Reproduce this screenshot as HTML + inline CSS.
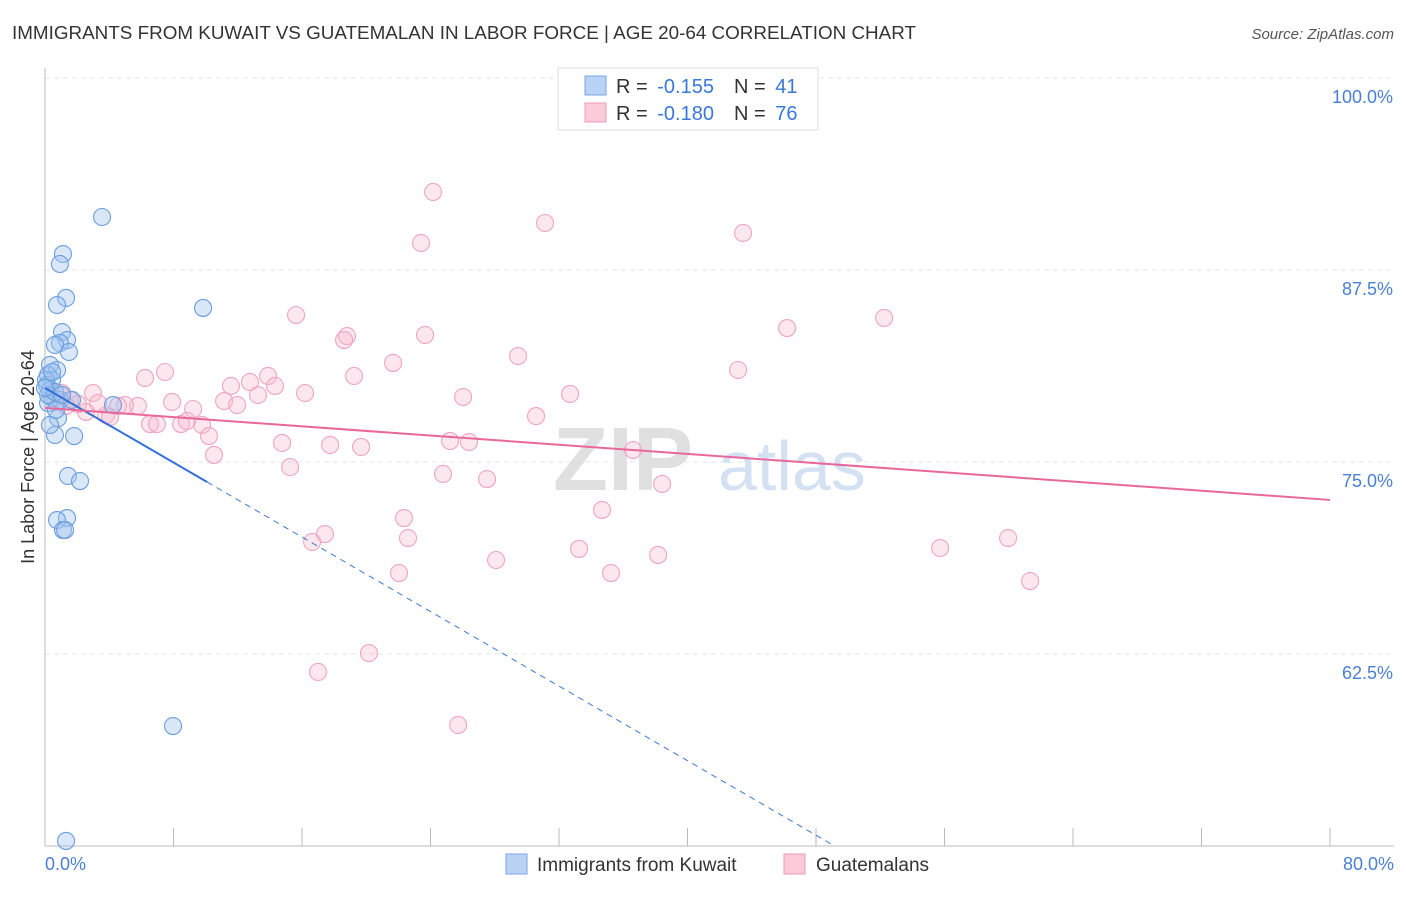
<!DOCTYPE html>
<html><head><meta charset="utf-8"><style>
body{margin:0;background:#fff;font-family:"Liberation Sans",sans-serif;}
svg text{font-family:"Liberation Sans",sans-serif;}
</style></head><body>
<svg id="chart" width="1406" height="892" viewBox="0 0 1406 892">
<text x="12" y="39" font-size="18" fill="#333" textLength="904" lengthAdjust="spacingAndGlyphs">IMMIGRANTS FROM KUWAIT VS GUATEMALAN IN LABOR FORCE | AGE 20-64 CORRELATION CHART</text>
<text x="1394" y="39" font-size="15" fill="#555" font-style="italic" text-anchor="end">Source: ZipAtlas.com</text>
<g id="grid"></g>
<g><text x="553" y="490" font-size="90" font-family="Liberation Serif" fill="#e0e0e0" font-weight="bold">ZIP</text><text x="718" y="490" font-size="70" fill="#d3e1f3">atlas</text></g>
<line x1="45" y1="68" x2="45" y2="846" stroke="#bbb"/>
<line x1="45" y1="846" x2="1394" y2="846" stroke="#bbb"/>
<g id="xticks"></g>
<g id="ylabels"></g>
<text x="45" y="870" font-size="18" fill="#4a7fd4">0.0%</text>
<text x="1394" y="870" font-size="18" fill="#4a7fd4" text-anchor="end">80.0%</text>
<text transform="translate(34,457) rotate(-90)" font-size="18" fill="#333" text-anchor="middle">In Labor Force | Age 20-64</text>
<g id="pink"></g>
<g id="blue"></g>
<g id="trends"></g>
<g>
<rect x="558" y="68" width="260" height="62" fill="#fff" stroke="#ddd"/>
<rect x="585" y="76" width="21" height="19" fill="#b9d3f5" stroke="#7aa6e4"/>
<rect x="585" y="103" width="21" height="19" fill="#fbcbd9" stroke="#ee9ab4"/>
<text x="616" y="93" font-size="20" fill="#333">R = <tspan dx="4" fill="#3a78d6">-0.155</tspan></text>
<text x="734" y="93" font-size="20" fill="#333">N = <tspan dx="4" fill="#3a78d6">41</tspan></text>
<text x="616" y="120" font-size="20" fill="#333">R = <tspan dx="4" fill="#3a78d6">-0.180</tspan></text>
<text x="734" y="120" font-size="20" fill="#333">N = <tspan dx="4" fill="#3a78d6">76</tspan></text>
</g>
<g>
<rect x="506" y="854" width="21" height="20" fill="#b9d3f5" stroke="#7aa6e4"/>
<text x="537" y="871" font-size="19" fill="#333">Immigrants from Kuwait</text>
<rect x="784" y="854" width="21" height="20" fill="#fbcbd9" stroke="#ee9ab4"/>
<text x="816" y="871" font-size="19" fill="#333">Guatemalans</text>
</g>
</svg>
<script>
const blueX=[3.55,1.12,0.93,1.31,0.75,1.06,1.37,0.93,1.49,0.62,0.31,0.75,0.19,0.44,0.12,0.31,0.44,0.19,0.93,1.68,4.23,0.81,0.62,1.81,1.43,2.18,1.37,0.75,1.12,1.25,9.84,7.97,1.31,0.31,0.19,0.62,0.06,0.44,1.06,0.68,0];
const blueY=[90.95,88.54,87.89,85.68,85.22,83.46,82.94,82.75,82.16,82.62,81.32,80.99,80.66,80.34,80.01,79.69,79.17,78.84,79.04,79.04,78.71,77.86,76.76,76.69,74.09,73.76,71.35,71.22,70.57,70.57,85.03,57.81,50.33,77.41,79.36,79.56,80.34,80.86,79.36,78.39,79.82];
const pinkX=[24.16,31.13,43.46,23.41,15.63,52.24,46.20,18.80,23.66,18.62,29.45,21.67,43.15,7.47,6.23,19.24,13.89,11.58,12.76,14.32,16.19,13.26,2.99,32.69,26.03,7.91,11.15,11.96,5.79,4.98,9.22,4.55,3.80,2.55,6.54,6.97,8.47,8.84,9.78,10.21,30.57,14.76,17.75,19.68,25.22,26.40,36.61,10.52,15.26,24.78,27.52,38.42,22.35,34.68,17.43,16.63,22.60,33.25,28.08,38.17,22.04,35.24,55.73,59.96,61.33,20.17,17.00,25.72,1.06,1.56,2.05,3.30,4.05,0.62,1.31,1.06];
const pinkY=[92.58,90.56,89.91,89.26,84.57,84.38,83.72,83.20,83.27,82.94,81.90,81.45,80.99,80.86,80.47,80.60,80.60,79.95,80.21,79.95,79.49,79.36,79.49,79.43,79.23,78.91,78.97,78.71,78.65,78.71,78.45,78.65,78.06,78.26,77.47,77.47,77.47,77.67,77.41,76.69,77.99,76.24,76.11,75.98,76.37,76.30,75.78,75.46,74.67,74.22,73.89,73.57,71.35,71.88,70.31,69.79,70.05,69.34,68.62,68.95,67.77,67.77,69.40,70.05,67.25,62.56,61.33,57.88,79.49,79.04,78.78,78.84,77.93,79.17,78.65,79.36];
const yTicks=[100,87.5,75,62.5];
const yTickLabels=["100.0%","87.5%","75.0%","62.5%"];
const xTicks=[0,8,16,24,32,40,48,56,64,72,80];
const blueTrend=[79.82,-0.6066,10.09];
const pinkTrend=[78.52,72.53];
const X=v=>45+v*16.0625, Y=v=>78+(100-v)*15.36;
const NS="http://www.w3.org/2000/svg";
function mk(p,t,a){const e=document.createElementNS(NS,t);for(const k in a)e.setAttribute(k,a[k]);p.appendChild(e);return e;}
const g=document.getElementById('grid');
yTicks.forEach((v,i)=>{const l=mk(g,'line',{x1:45,x2:1394,y1:Y(v),y2:Y(v),stroke:'#e4e4e4','stroke-dasharray':'5,4'});


const t=mk(document.getElementById('ylabels'),'text',{x:1393,y:Y(v)+25,'font-size':18,fill:'#4a7fd4','text-anchor':'end'});t.textContent=yTickLabels[i];

});
xTicks.forEach(v=>{const l=mk(document.getElementById('xticks'),'line',{x1:X(v),x2:X(v),y1:828,y2:846,stroke:'#bbb'});

});
function pts(id,xs,ys,fill,stroke,name){const p=document.getElementById(id);xs.forEach((x,i)=>{const c=mk(p,'circle',{cx:X(x),cy:Y(ys[i]),r:8.5,fill:fill,stroke:stroke,'stroke-width':1.1});

});}
pts('pink',pinkX,pinkY,'rgba(248,185,205,0.35)','#efa5bd','guatemalan-point');
pts('blue',blueX,blueY,'rgba(160,195,240,0.4)','#6a9ede','kuwait-point');
const tr=document.getElementById('trends');
const bEnd=(50-blueTrend[0])/blueTrend[1];
const d=mk(tr,'line',{x1:X(blueTrend[2]),y1:Y(blueTrend[0]+blueTrend[1]*blueTrend[2]),x2:X(bEnd),y2:Y(50),stroke:'#3a78d6','stroke-width':1,'stroke-dasharray':'6,5'});


const s=mk(tr,'line',{x1:X(0),y1:Y(blueTrend[0]),x2:X(blueTrend[2]),y2:Y(blueTrend[0]+blueTrend[1]*blueTrend[2]),stroke:'#3070d8','stroke-width':2});


const pl=mk(tr,'line',{x1:X(0),y1:Y(pinkTrend[0]),x2:X(80),y2:Y(pinkTrend[1]),stroke:'#e8689a','stroke-width':2});


</script>
</body></html>
